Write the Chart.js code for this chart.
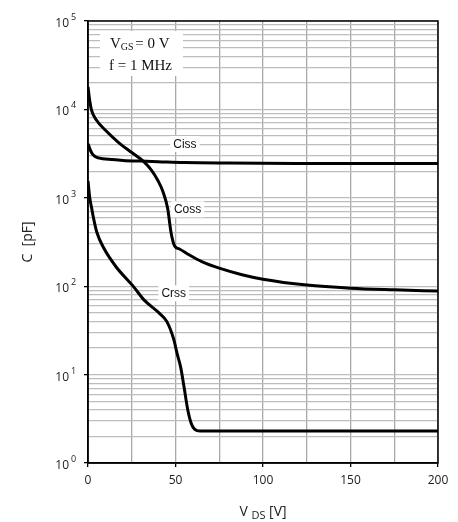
<!DOCTYPE html>
<html lang="en">
<head>
  <meta charset="UTF-8">
  <title>Capacitance vs VDS</title>
  <script src="https://cdn.jsdelivr.net/npm/chart.js"></script>
  <style>
    body { margin: 0; background: #fff; }
    canvas { display: block; }
  </style>
</head>
<body>
  <canvas id="capChart" width="458" height="522"></canvas>

  <script>
    // curve data (V in volts, C in pF)
    const cissV = [0, 1, 2, 3, 5, 7, 10, 20, 30, 40, 55, 80, 120, 200];
    const cissC = [4100, 3600, 3250, 3050, 2870, 2800, 2740, 2650, 2600, 2560, 2500, 2470, 2450, 2450];

    const cossV = [0, 1, 2, 5, 10, 17, 25, 32, 36, 40, 43, 45.5, 47.5, 49.5, 52, 58, 65, 75, 88, 100, 125, 150, 175, 200];
    const cossC = [18000, 12500, 9800, 7500, 5800, 4300, 3250, 2550, 2080, 1560, 1150, 760, 400, 285, 265, 225, 190, 160, 135, 120, 103, 95, 91, 88];

    const crssV = [0, 1, 2, 3, 5, 9, 16, 26, 32, 41, 45, 49, 51, 53, 55, 57, 59, 61, 64, 200];
    const crssC = [1550, 1000, 780, 610, 410, 270, 166, 99, 70, 49, 40, 25, 17, 12, 7, 4, 2.8, 2.4, 2.3, 2.3];

    // in-plot labels
    const labelNames = ['Ciss', 'Coss', 'Crss'];
    const labelV = [55.4, 56.9, 49];
    const labelC = [4060, 741, 83];

    // axis ticks
    const xTicks = [0, 50, 100, 150, 200];
    const yDecades = [0, 1, 2, 3, 4, 5];

    const toPoints = (xs, ys) => xs.map((x, i) => ({ x: x, y: ys[i] }));
    const isDecade = v => Math.abs(Math.log10(v) - Math.round(Math.log10(v))) < 1e-9;

    // 1..9 x 10^k grid lines
    const yGrid = [];
    yDecades.forEach(e => {
      for (let m = 1; m <= 9; m++) {
        if (e === 5 && m > 1) break;
        yGrid.push(m * Math.pow(10, e));
      }
    });

    const sans = '"Open Sans", "DejaVu Sans", sans-serif';

    // frame, superscript tick labels, curve labels, condition box, axis titles
    const decorations = {
      id: 'decorations',
      afterDraw(chart) {
        const { ctx, chartArea: a, scales: { x, y } } = chart;
        ctx.save();

        ctx.strokeStyle = '#000';
        ctx.lineWidth = 1.5;
        ctx.strokeRect(a.left, a.top, a.right - a.left, a.bottom - a.top);

        // y tick labels 10^n
        ctx.fillStyle = '#222';
        ctx.textBaseline = 'alphabetic';
        yDecades.forEach(e => {
          const py = y.getPixelForValue(Math.pow(10, e));
          ctx.font = '12px ' + sans;
          ctx.textAlign = 'right';
          ctx.fillText('10', 69, py + 6);
          ctx.font = '9px ' + sans;
          ctx.textAlign = 'left';
          ctx.fillText(String(e), 71, py - 1);
        });

        // curve labels with white background
        ctx.font = '12px "Liberation Sans", Arial, sans-serif';
        ctx.textAlign = 'center';
        ctx.textBaseline = 'middle';
        labelNames.forEach((name, i) => {
          const px = x.getPixelForValue(labelV[i]);
          const py = y.getPixelForValue(labelC[i]);
          const w = ctx.measureText(name).width + 6;
          ctx.fillStyle = '#fff';
          ctx.fillRect(px - w / 2, py - 8, w, 16);
          ctx.fillStyle = '#111';
          ctx.fillText(name, px, py + 0.5);
        });

        // test condition box
        ctx.fillStyle = '#fff';
        ctx.fillRect(100, 31, 83, 45);
        ctx.fillStyle = '#111';
        ctx.textAlign = 'left';
        ctx.textBaseline = 'alphabetic';
        const serif = '"Liberation Serif", "Times New Roman", serif';
        ctx.font = '15px ' + serif;
        ctx.fillText('V', 110, 48);
        let cx = 110 + ctx.measureText('V').width;
        ctx.font = '10px ' + serif;
        ctx.fillText('GS', cx, 50);
        cx += ctx.measureText('GS').width;
        ctx.font = '15px ' + serif;
        ctx.fillText(' = 0 V', cx - 2, 48);
        ctx.fillText('f = 1 MHz', 109, 70);

        // x axis title V_DS [V]
        ctx.fillStyle = '#222';
        ctx.font = '14px ' + sans;
        const p1 = 'V ', p2 = 'DS', p3 = ' [V]';
        const w1 = ctx.measureText(p1).width, w3 = ctx.measureText(p3).width;
        ctx.font = '11px ' + sans;
        const w2 = ctx.measureText(p2).width;
        let tx = (a.left + a.right) / 2 - (w1 + w2 + w3) / 2;
        ctx.font = '14px ' + sans;
        ctx.fillText(p1, tx, 516);
        ctx.font = '11px ' + sans;
        ctx.fillText(p2, tx + w1, 519);
        ctx.font = '14px ' + sans;
        ctx.fillText(p3, tx + w1 + w2, 516);

        // y axis title
        ctx.translate(28, 242);
        ctx.rotate(-Math.PI / 2);
        ctx.textAlign = 'center';
        ctx.textBaseline = 'middle';
        ctx.font = '14px ' + sans;
        ctx.fillText('C  [pF]', 0, 0);

        ctx.restore();
      }
    };

    const lineStyle = {
      borderColor: '#000',
      borderWidth: 3,
      pointRadius: 0,
      fill: false,
      cubicInterpolationMode: 'monotone'
    };

    const chart = new Chart(document.getElementById('capChart'), {
      type: 'line',
      data: {
        datasets: [
          Object.assign({ label: 'Ciss', data: toPoints(cissV, cissC) }, lineStyle),
          Object.assign({ label: 'Coss', data: toPoints(cossV, cossC) }, lineStyle),
          Object.assign({ label: 'Crss', data: toPoints(crssV, crssC) }, lineStyle)
        ]
      },
      options: {
        responsive: false,
        animation: false,
        layout: { padding: { top: 21, right: 20, left: 0, bottom: 0 } },
        plugins: {
          legend: { display: false },
          tooltip: { enabled: false }
        },
        scales: {
          x: {
            type: 'linear',
            min: 0,
            max: 200,
            ticks: {
              stepSize: 25,
              autoSkip: false,
              maxRotation: 0,
              padding: 6,
              color: '#222',
              font: { family: sans, size: 12 },
              callback: v => xTicks.includes(v) ? String(v) : ''
            },
            grid: {
              color: '#a9a9a9',
              lineWidth: 1.3,
              tickLength: 4,
              tickColor: c => (c.tick && xTicks.includes(c.tick.value)) ? '#000' : 'rgba(0,0,0,0)'
            },
            border: { color: '#000', width: 1.5 },
            afterFit: s => { s.height = 59; }
          },
          y: {
            type: 'logarithmic',
            min: 1,
            max: 100000,
            afterBuildTicks: s => { s.ticks = yGrid.map(v => ({ value: v })); },
            ticks: {
              autoSkip: false,
              callback: () => ''
            },
            grid: {
              color: '#bdbdbd',
              lineWidth: 1.3,
              tickLength: 4,
              tickColor: c => (c.tick && isDecade(c.tick.value)) ? '#000' : 'rgba(0,0,0,0)'
            },
            border: { color: '#000', width: 1.5 },
            afterFit: s => { s.width = 88; }
          }
        }
      },
      plugins: [decorations]
    });
  </script>
</body>
</html>
